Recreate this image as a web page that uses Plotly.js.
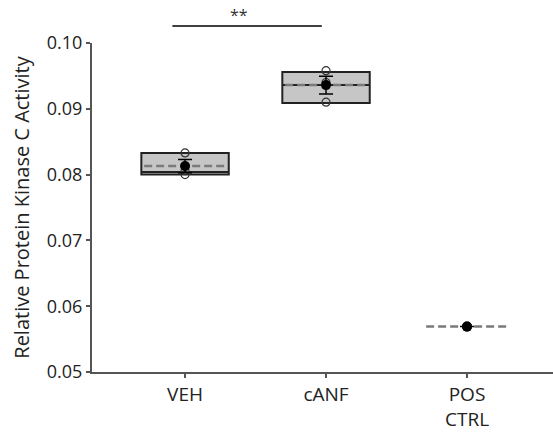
<!DOCTYPE html>
<html><head><meta charset="utf-8">
<script src="https://cdn.plot.ly/plotly-3.0.1.min.js"></script>
<style>html,body{margin:0;padding:0;background:#fff}#chart{width:553px;height:432px}</style>
</head><body><div id="chart"></div>
<script>
const categories = ["VEH", "cANF", "POS<br>CTRL"];
const catPos = [0, 1, 2];
const vehPoints = [0.0833, 0.0806, 0.0800];
const canfPoints = [0.0958, 0.0940, 0.0910];
const posPoints = [0.0569];
const boxQ1 = [0.0800, 0.0909];
const boxMedian = [0.0804, 0.0936];
const boxQ3 = [0.0833, 0.0956];
const means = [0.0813, 0.0936, 0.0569];
const sems = [0.0010, 0.00135, 0];
const sigLabel = "**";

const traces = [];
traces.push({
  type: 'box', x: [catPos[0], catPos[1]],
  q1: boxQ1, median: boxMedian, q3: boxQ3,
  lowerfence: boxQ1, upperfence: boxQ3,
  width: 0.62, fillcolor: '#c6c6c6',
  line: {color: '#222', width: 2},
  boxpoints: false, hoverinfo: 'skip', showlegend: false
});
for (let i = 0; i < 3; i++) {
  traces.push({
    type: 'scatter', mode: 'lines',
    x: [catPos[i] - 0.29, catPos[i] + 0.29], y: [means[i], means[i]],
    line: {color: '#7a7a7a', width: 2.5, dash: '8px,4px'},
    showlegend: false, hoverinfo: 'skip'
  });
}
const allPts = [vehPoints, canfPoints];
for (let i = 0; i < 2; i++) {
  traces.push({
    type: 'scatter', mode: 'markers',
    x: allPts[i].map(() => catPos[i]), y: allPts[i],
    marker: {symbol: 'circle-open', size: 8, color: '#333', line: {width: 1.2}},
    showlegend: false
  });
}
traces.push({
  type: 'scatter', mode: 'markers',
  x: [catPos[2]], y: posPoints,
  marker: {size: 10, color: '#000'}, showlegend: false
});
traces.push({
  type: 'scatter', mode: 'markers',
  x: catPos, y: means,
  error_y: {type: 'data', array: sems, visible: true, color: '#000', thickness: 1.5, width: 7},
  marker: {size: 10, color: '#000'},
  showlegend: false
});

const layout = {
  width: 553, height: 432,
  margin: {l: 92, r: 0, t: 43, b: 60},
  paper_bgcolor: '#fff', plot_bgcolor: '#fff',
  font: {family: 'Open Sans, sans-serif', color: '#222'},
  xaxis: {
    range: [-0.66, 2.61], tickvals: catPos, ticktext: categories,
    showgrid: false, zeroline: false, showline: true, linecolor: '#555', linewidth: 2,
    ticks: 'outside', ticklen: 4, tickcolor: '#555', tickwidth: 2,
    tickfont: {size: 19, color: '#222'}
  },
  yaxis: {
    range: [0.05, 0.10], tickvals: [0.05, 0.06, 0.07, 0.08, 0.09, 0.10],
    ticktext: ['0.05', '0.06', '0.07', '0.08', '0.09', '0.10'],
    showgrid: false, zeroline: false, showline: true, linecolor: '#555', linewidth: 2,
    ticks: 'outside', ticklen: 4, tickcolor: '#555', tickwidth: 2,
    tickfont: {size: 18, color: '#222'},
    title: {text: 'Relative Protein Kinase C Activity', font: {size: 20, color: '#222'}, standoff: 12}
  },
  shapes: [{
    type: 'line', xref: 'x', yref: 'paper', x0: -0.09, x1: 0.97, y0: 1.052, y1: 1.052,
    line: {color: '#000', width: 1.5}
  }],
  annotations: [{
    xref: 'x', yref: 'paper', x: 0.38, y: 1.085, text: sigLabel, showarrow: false,
    yanchor: 'middle', font: {size: 16, color: '#333'}
  }]
};
Plotly.newPlot('chart', traces, layout, {staticPlot: true});
</script></body></html>
